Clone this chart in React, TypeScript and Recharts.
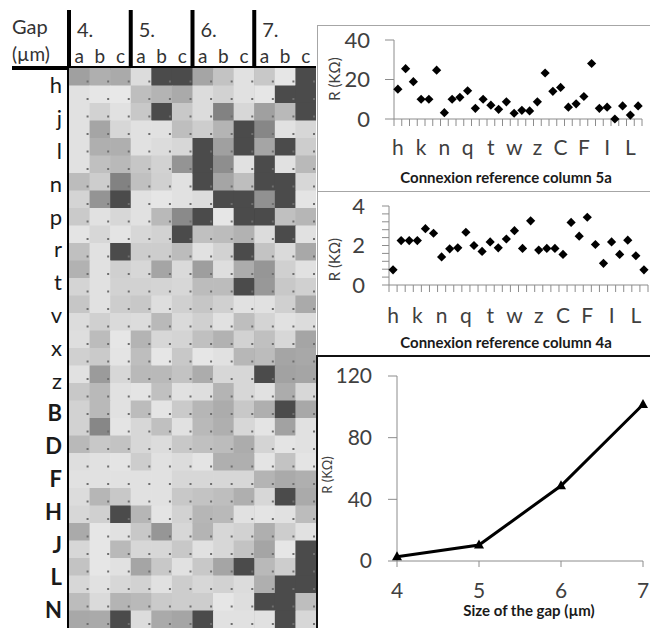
import { ScatterChart, Scatter, LineChart, Line, XAxis, YAxis, ReferenceLine } from 'recharts'

const FONT = 'Lato, "Liberation Sans", sans-serif'
const INK = '#404040'
const AXIS = '#8c8c8c'

// connexion names: h..z then A..M
const CONNEXIONS = ['h', 'i', 'j', 'k', 'l', 'm', 'n', 'o', 'p', 'q', 'r', 's', 't', 'u', 'v', 'w', 'x', 'y', 'z',
  'A', 'B', 'C', 'D', 'E', 'F', 'G', 'H', 'I', 'J', 'K', 'L', 'M']
const ROW_LABELS = ['h', 'j', 'l', 'n', 'p', 'r', 't', 'v', 'x', 'z', 'B', 'D', 'F', 'H', 'J', 'L', 'N']

const R_COL5A = [15.1, 25.5, 18.9, 10, 10, 24.7, 3.2, 10, 11, 14.3, 5.4, 10, 7, 4.9, 8.7, 2.9, 4.4, 4.1, 8.7,
  23.3, 14, 16, 6, 7.7, 11.4, 28.1, 5.4, 6, 0, 6.6, 2, 6.6]
const R_COL4A = [0.77, 2.25, 2.25, 2.25, 2.85, 2.62, 1.42, 1.83, 1.88, 2.67, 2.0, 1.7, 2.18, 1.88, 2.33, 2.75,
  1.85, 3.25, 1.77, 1.85, 1.85, 1.55, 3.17, 2.47, 3.43, 2.05, 1.1, 2.18, 1.55, 2.27, 1.48, 0.77]

const GAP_SIZES = [4, 5, 6, 7]
const R_GAP = [2.8, 10.4, 48.8, 101.5]

// grey level (0-255) of each cell, rows h..M, columns a b c
const GAP4 = [
  [160, 175, 170], [225, 230, 232], [225, 210, 225], [225, 165, 215], [225, 175, 175], [225, 192, 185],
  [188, 205, 130], [212, 148, 75], [202, 225, 215], [228, 215, 228], [192, 225, 75], [178, 225, 208],
  [212, 225, 210], [198, 225, 205], [220, 208, 218], [222, 188, 230], [208, 202, 228], [225, 155, 215],
  [200, 185, 225], [210, 185, 225], [210, 135, 228], [185, 200, 195], [222, 225, 228], [225, 225, 225],
  [220, 182, 200], [215, 208, 75], [170, 230, 225], [215, 230, 185], [195, 230, 225], [215, 225, 215],
  [188, 218, 180], [168, 170, 75],
]
const GAP5 = [
  [220, 75, 75], [190, 180, 170], [200, 75, 200], [225, 225, 190], [225, 220, 215], [198, 210, 148],
  [192, 208, 225], [225, 230, 225], [225, 185, 138], [215, 210, 75], [205, 205, 188], [215, 165, 218],
  [210, 212, 215], [200, 222, 208], [220, 185, 218], [180, 215, 212], [190, 230, 200], [185, 185, 195],
  [228, 192, 225], [188, 228, 202], [215, 192, 225], [215, 220, 200], [205, 225, 220], [225, 225, 215],
  [225, 225, 200], [182, 228, 210], [200, 150, 215], [215, 215, 200], [165, 200, 225], [210, 225, 205],
  [185, 202, 205], [220, 170, 165],
]
const GAP6 = [
  [165, 195, 225], [220, 210, 225], [220, 130, 215], [205, 180, 75], [75, 160, 75], [75, 142, 225],
  [75, 165, 190], [220, 75, 75], [75, 230, 75], [192, 188, 178], [225, 210, 75], [158, 222, 172],
  [188, 188, 75], [198, 208, 225], [208, 225, 190], [192, 178, 210], [230, 225, 183], [172, 215, 215],
  [222, 180, 215], [182, 172, 200], [185, 175, 215], [192, 188, 172], [228, 175, 175], [215, 215, 215],
  [195, 190, 175], [182, 185, 225], [180, 215, 210], [225, 215, 195], [200, 165, 75], [215, 210, 220],
  [205, 230, 222], [75, 225, 225],
]
const GAP7 = [
  [200, 230, 75], [230, 75, 75], [160, 185, 75], [135, 225, 215], [165, 75, 205], [75, 225, 185],
  [75, 75, 215], [145, 75, 228], [75, 192, 182], [220, 75, 225], [195, 218, 168], [150, 208, 225],
  [152, 200, 208], [225, 208, 170], [212, 225, 220], [192, 215, 165], [188, 165, 168], [75, 162, 165],
  [225, 172, 215], [175, 75, 168], [228, 162, 225], [212, 228, 225], [228, 195, 228], [180, 170, 175],
  [215, 75, 170], [228, 225, 188], [175, 205, 225], [165, 230, 75], [185, 205, 75], [175, 75, 75],
  [75, 75, 190], [225, 75, 215],
]

const cells = [GAP4, GAP5, GAP6, GAP7].flatMap((g, gi) =>
  g.flatMap((row, r) => row.map((v, k) => ({ x: gi * 3 + k + 0.5, y: r + 0.5, v }))),
)
const labelPts = ROW_LABELS.map((_, i) => ({ x: -1, y: i }))
const colTicks = Array.from({ length: 12 }, (_, i) => i + 0.5)
const rowTicks = ROW_LABELS.map((_, i) => i)

// heatmap plot area: x 12..316, y 10..628
const CELL_W = 304 / 14.769
const CELL_H = 17.5

const HeatCell = (props: any) => {
  const { cx, cy, payload } = props
  const g = payload.v
  return (
    <g>
      <rect x={cx - CELL_W / 2} y={cy - CELL_H / 2} width={CELL_W + 0.6} height={CELL_H + 0.6} fill={`rgb(${g},${g},${g})`} />
      <rect x={cx + CELL_W / 2 - 3} y={cy + CELL_H / 2 - 5} width={2} height={2} fill="#6e6e6e" />
    </g>
  )
}

const HeaderTick = (props: any) => {
  const { x, payload } = props
  const col = Math.floor(payload.value)
  const k = col % 3
  return (
    <g fontFamily={FONT} fill="#333">
      <text x={x} y={63} textAnchor="middle" fontSize={19}>{'abc'[k]}</text>
      {k === 0 && (
        <text x={x - CELL_W / 2 + 8} y={37} fontSize={20}>{GAP_SIZES[col / 3]}.</text>
      )}
      {col === 0 && (
        <>
          <text x={12} y={34} fontSize={20}>Gap</text>
          <text x={12} y={61} fontSize={19}>(µm)</text>
        </>
      )}
    </g>
  )
}

const RowTick = (props: any) => {
  const { y, payload } = props
  const t = ROW_LABELS[payload.value]
  if (!t) return <g />
  const upper = t === t.toUpperCase()
  return (
    <text x={62} y={y} dy="0.36em" textAnchor="end" fontSize={22} fontWeight={upper ? 700 : 400}
      fill="#1a1a1a" fontFamily={FONT}>
      {t}
    </text>
  )
}

const Diamond = (props: any) => {
  const { cx, cy } = props
  const s = 4.6
  return <polygon points={`${cx},${cy - s} ${cx + s},${cy} ${cx},${cy + s} ${cx - s},${cy}`} fill="#000" />
}

const Tri = (props: any) => {
  const { cx, cy } = props
  return <polygon points={`${cx},${cy - 5.5} ${cx + 5},${cy + 3.5} ${cx - 5},${cy + 3.5}`} fill="#000" />
}

const letterTick = (step: number, dy: number) => (props: any) => {
  const { x, y, payload } = props
  const i = payload.value
  if (i % 3 !== 0 || i >= CONNEXIONS.length) return <g />
  return (
    <text x={x + step / 2} y={y + dy} textAnchor="middle" fontSize={21} fill={INK} fontFamily={FONT}>
      {CONNEXIONS[i]}
    </text>
  )
}

// axis titles at fixed spots in the chart's svg
const VTitle = ({ px, py, size, text }: any) => (
  <text x={px} y={py} transform={`rotate(-90 ${px} ${py})`} textAnchor="middle" dominantBaseline="central"
    fontSize={size} fill={INK} fontFamily={FONT}>
    {text}
  </text>
)

const HTitle = ({ px, py, text }: any) => (
  <text x={px} y={py} textAnchor="middle" fontSize={15} fontWeight={700} fill="#1a1a1a" fontFamily={FONT}>
    {text}
  </text>
)

const col5a = R_COL5A.map((r, i) => ({ x: i + 0.5, y: r }))
const col4a = R_COL4A.map((r, i) => ({ x: i + 0.5, y: r }))
const bounds = [...CONNEXIONS.map((_, i) => i), CONNEXIONS.length]
const gapData = GAP_SIZES.map((g, i) => ({ gap: g, r: R_GAP[i] }))

const line = (style: any) => <div style={{ position: 'absolute', ...style }} />

const App = () => {
  return (
    <div style={{ position: 'absolute', left: 0, top: 0, width: 650, height: 628, background: '#fff', fontFamily: FONT }}>
      <div style={{ position: 'absolute', left: 0, top: 0 }}>
        <ScatterChart width={320} height={628} margin={{ top: 10, right: 4, bottom: 0, left: 12 }}>
          <XAxis type="number" dataKey="x" orientation="top" mirror domain={[-2.769, 12]} allowDataOverflow
            ticks={colTicks} interval={0} axisLine={false} tickLine={false} tick={HeaderTick} />
          <YAxis type="number" dataKey="y" hide reversed domain={[-3.314, 32]} allowDataOverflow />
          <YAxis yAxisId="lbl" type="number" dataKey="y" orientation="left" mirror reversed
            domain={[-2.302, 16.54]} allowDataOverflow ticks={rowTicks} interval={0}
            axisLine={false} tickLine={false} tick={RowTick} />
          <Scatter data={cells} shape={HeatCell} isAnimationActive={false} />
          <Scatter data={labelPts} yAxisId="lbl" shape={() => <g />} isAnimationActive={false} />
          {[0, 3, 6, 9].map(x => (
            <ReferenceLine key={x} x={x} stroke="#000" strokeWidth={4} />
          ))}
          <ReferenceLine y={0} stroke="#000" strokeWidth={4} />
        </ScatterChart>
      </div>

      <div style={{ position: 'absolute', left: 317, top: 25 }}>
        <ScatterChart width={333} height={166} margin={{ top: 15, right: 8, bottom: 0, left: 0 }}>
          <XAxis type="number" dataKey="x" domain={[0, 32]} ticks={bounds} interval={0}
            height={72} tickSize={7} tickMargin={0} stroke={AXIS} tick={letterTick(248 / 32, 29)}
            label={<HTitle px={189} py={157.5} text="Connexion reference column 5a" />} />
          <YAxis type="number" dataKey="y" domain={[0, 40]} ticks={[0, 20, 40]} width={77}
            tickSize={9} tickMargin={15} stroke={AXIS} tick={{ fill: INK, fontSize: 22, fontFamily: FONT }}
            label={<VTitle px={17} py={54} size={15} text="R (KΩ)" />} />
          <Scatter data={col5a} shape={Diamond} isAnimationActive={false} />
        </ScatterChart>
      </div>

      <div style={{ position: 'absolute', left: 317, top: 191 }}>
        <ScatterChart width={333} height={164} margin={{ top: 15, right: 2, bottom: 0, left: 0 }}>
          <XAxis type="number" dataKey="x" domain={[0, 32]} ticks={bounds} interval={0}
            height={70} tickSize={7} tickMargin={0} stroke={AXIS} tick={letterTick(259 / 32, 31)}
            label={<HTitle px={189} py={156.7} text="Connexion reference column 4a" />} />
          <YAxis type="number" dataKey="y" domain={[0, 4]}
            ticks={[0, 0.4, 0.8, 1.2, 1.6, 2, 2.4, 2.8, 3.2, 3.6, 4]} interval={0}
            tickFormatter={v => ([0, 2, 4].includes(v) ? String(v) : '')} width={72}
            tickSize={7} tickMargin={17} stroke={AXIS} tick={{ fill: INK, fontSize: 22, fontFamily: FONT }}
            label={<VTitle px={17} py={68.6} size={15} text="R (KΩ)" />} />
          <Scatter data={col4a} shape={Diamond} isAnimationActive={false} />
        </ScatterChart>
      </div>

      <div style={{ position: 'absolute', left: 317, top: 356 }}>
        <LineChart width={333} height={272} data={gapData} margin={{ top: 20, right: 7, bottom: 0, left: 0 }}>
          <XAxis type="number" dataKey="gap" domain={[4, 7]} ticks={GAP_SIZES} interval={0}
            height={67} tickSize={6} tickMargin={16} stroke={AXIS}
            tick={{ fill: INK, fontSize: 21, fontFamily: FONT }}
            label={<HTitle px={212} py={260} text="Size of the gap (µm)" />} />
          <YAxis type="number" domain={[0, 120]} ticks={[0, 40, 80, 120]} width={80}
            tickSize={9} tickMargin={16} stroke={AXIS} tick={{ fill: INK, fontSize: 21, fontFamily: FONT }}
            label={<VTitle px={10} py={119} size={13} text="R (KΩ)" />} />
          <Line type="linear" dataKey="r" stroke="#000" strokeWidth={3} dot={<Tri />} activeDot={false}
            isAnimationActive={false} />
        </LineChart>
      </div>

      {line({ left: 317, top: 25, width: 333, height: 1, background: '#a6a6a6' })}
      {line({ left: 317, top: 25, width: 1, height: 330, background: '#a6a6a6' })}
      {line({ left: 317, top: 191, width: 333, height: 1, background: '#a6a6a6' })}
      {line({ left: 317, top: 355, width: 333, height: 2, background: '#111' })}
      {line({ left: 316, top: 355, width: 2, height: 273, background: '#111' })}
    </div>
  )
}

export default App
